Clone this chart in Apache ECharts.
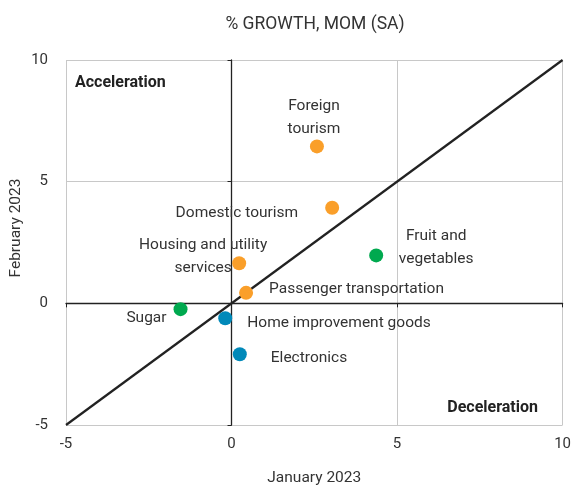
<!DOCTYPE html>
<html>
<head>
<meta charset="utf-8">
<script src="https://cdn.jsdelivr.net/npm/echarts@6/dist/echarts.min.js"></script>
<style>
  html, body { margin: 0; padding: 0; background: #fff; }
  #chart { width: 574px; height: 491px; }
</style>
</head>
<body>
<div id="chart"></div>
<script>
// data (x = January 2023, y = February 2023)
var names = ['Foreign\ntourism', 'Domestic tourism', 'Fruit and\nvegetables', 'Housing and utility\nservices',
    'Passenger transportation', 'Sugar', 'Home improvement goods', 'Electronics'];
var janValues = [2.58, 3.04, 4.37, 0.23, 0.44, -1.54, -0.19, 0.25];
var febValues = [6.45, 3.93, 1.97, 1.65, 0.43, -0.24, -0.61, -2.09];
var groups = ['services', 'services', 'food', 'services', 'services', 'food', 'goods', 'goods'];
var diagX = [-5, 10];
var diagY = [-5, 10];

var colors = { services: '#FA9F2A', food: '#00A94F', goods: '#0189B9' };

// where each label sits next to its dot
var labelCfg = [
    { align: 'center', offset: [-3, -29] },
    { align: 'right', offset: [-34, 5] },
    { align: 'center', offset: [60, -8] },
    { align: 'center', offset: [-36, -7] },
    { align: 'left', offset: [23, -4] },
    { align: 'right', offset: [-14, 9] },
    { align: 'left', offset: [22, 5] },
    { align: 'left', offset: [31, 4] }
];

var fontFamily = 'Roboto';
var textColor = '#333';

function buildSeries(group) {
    var pts = [];
    for (var i = 0; i < names.length; i++) {
        if (groups[i] !== group) continue;
        var cfg = labelCfg[i];
        pts.push({
            name: names[i],
            value: [janValues[i], febValues[i]],
            label: {
                show: true,
                formatter: names[i],
                position: 'inside',
                align: cfg.align,
                verticalAlign: 'middle',
                offset: cfg.offset,
                color: textColor,
                fontFamily: fontFamily,
                fontSize: 15.5,
                lineHeight: 23
            }
        });
    }
    return {
        type: 'scatter',
        xAxisIndex: 0,
        yAxisIndex: 0,
        symbolSize: 14,
        itemStyle: { color: colors[group], opacity: 1 },
        data: pts,
        z: 5
    };
}

var diagData = [];
for (var k = 0; k < diagX.length; k++) diagData.push([diagX[k], diagY[k]]);

var baseAxis = {
    type: 'value',
    min: -5,
    max: 10,
    interval: 5,
    axisLine: { show: false },
    axisTick: { show: false },
    splitLine: { show: true, lineStyle: { color: '#c8c8c8', width: 1 } },
    axisLabel: { color: textColor, fontFamily: fontFamily, fontSize: 15 },
    nameLocation: 'middle',
    nameTextStyle: { color: textColor, fontFamily: fontFamily, fontSize: 15.5 }
};

var zeroAxis = {
    type: 'value',
    min: -5,
    max: 10,
    interval: 5,
    axisLine: { show: true, onZero: true, lineStyle: { color: '#222', width: 1.3 } },
    axisTick: { show: true, length: 4, lineStyle: { color: '#222' } },
    splitLine: { show: false },
    axisLabel: { show: false }
};

var chart = echarts.init(document.getElementById('chart'), null, { renderer: 'canvas' });

chart.setOption({
    backgroundColor: '#fff',
    animation: false,
    title: {
        text: '% GROWTH, MOM (SA)',
        left: 310,
        top: 11,
        textAlign: 'center',
        textStyle: { color: textColor, fontFamily: fontFamily, fontSize: 17.5, fontWeight: 'normal' }
    },
    grid: { left: 66, top: 60, right: 8, bottom: 66, containLabel: false },
    xAxis: [
        Object.assign({}, baseAxis, {
            position: 'bottom',
            name: 'January 2023',
            nameGap: 45,
            axisLabel: Object.assign({}, baseAxis.axisLabel, { margin: 12 })
        }),
        Object.assign({}, zeroAxis, { position: 'bottom' })
    ],
    yAxis: [
        Object.assign({}, baseAxis, {
            position: 'left',
            axisLabel: Object.assign({}, baseAxis.axisLabel, { margin: 18 })
        }),
        Object.assign({}, zeroAxis, { position: 'left' })
    ],
    graphic: [
        {
            type: 'text', x: 16, y: 228, rotation: Math.PI / 2,
            style: {
                text: 'February 2023', fill: textColor, font: '15.5px ' + fontFamily,
                align: 'center', verticalAlign: 'middle'
            }
        },
        {
            type: 'text', left: 75, top: 75,
            style: { text: 'Acceleration', fill: '#222', font: 'bold 16px ' + fontFamily }
        },
        {
            type: 'text', right: 36, top: 400,
            style: { text: 'Deceleration', fill: '#222', font: 'bold 16px ' + fontFamily }
        }
    ],
    series: [
        {
            type: 'line',
            xAxisIndex: 0,
            yAxisIndex: 0,
            data: diagData,
            symbol: 'none',
            lineStyle: { color: '#222', width: 2.2 },
            z: 3
        },
        {
            // keeps the zero axes bound to the same scale
            type: 'scatter',
            xAxisIndex: 1,
            yAxisIndex: 1,
            data: [],
            silent: true
        },
        buildSeries('services'),
        buildSeries('food'),
        buildSeries('goods')
    ]
});
</script>
</body>
</html>
